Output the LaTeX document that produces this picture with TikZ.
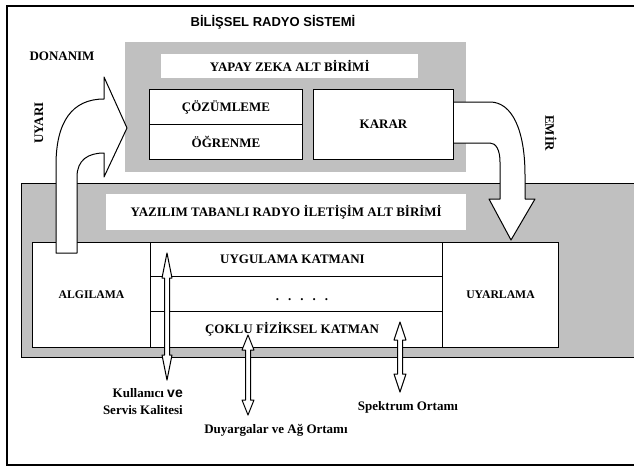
\documentclass[tikz,border=0pt]{standalone}
\usepackage{fontspec}
\setmainfont{Liberation Serif}
\newfontfamily\arial{Liberation Sans}
\usetikzlibrary{calc}
\definecolor{gri}{RGB}{192,192,192}

\begin{document}
\begin{tikzpicture}[x=1pt,y=-1pt]
	\tikzstyle{every node}=[inner sep=0pt,font=\fontsize{13}{15}\selectfont\bfseries]
	\tikzstyle{kutu}=[draw,fill=white,line width=1pt,anchor=north west]
	\tikzstyle{alan}=[fill=gri,anchor=north west]
	\tikzstyle{blok}=[draw,fill=white,line width=1pt,line join=round]
	\clip (0,0) rectangle (634,466);
	\draw[line width=1.2pt] (7,6) rectangle (660,465);

	\node (sistem) at (273,22) {\arial BİLİŞSEL RADYO SİSTEMİ};
	\node (donanim) at (62,56) {DONANIM};
	\node[rotate=90] (uyari) at (39,123) {UYARI};
	\node[rotate=-90] (emir) at (551,133) {EMİR};

	\node[alan,minimum width=341,minimum height=130] (yzalan) at (125,42) {};
	\node[anchor=north west,fill=white,minimum width=257,minimum height=24] (yz) at (161,54) {YAPAY ZEKA ALT BİRİMİ};
	\node[kutu,minimum width=153,minimum height=35] (cozumleme) at (149,89) {ÇÖZÜMLEME};
	\node[kutu,minimum width=153,minimum height=35] (ogrenme) at (149,124) {ÖĞRENME};
	\node[kutu,minimum width=140,minimum height=70] (karar) at (313,89) {KARAR};

	\node[alan,draw,line width=1pt,minimum width=660,minimum height=174] (ytralan) at (21,183) {};
	\node[anchor=north west,fill=white,minimum width=360,minimum height=36] (ytr) at (106,194) {YAZILIM TABANLI RADYO İLETİŞİM ALT BİRİMİ};
	\node[kutu,minimum width=118,minimum height=105,font=\fontsize{11.7}{14}\selectfont\bfseries] (algilama) at (32,242) {ALGILAMA};
	\node[kutu,minimum width=292,minimum height=34] (uygulama) at (150,242) {UYGULAMA KATMANI\hspace*{8pt}};
	\node[kutu,minimum width=292,minimum height=35] (ara) at (150,276) {};
	\node[kutu,minimum width=292,minimum height=36] (coklu) at (150,311) {ÇOKLU FİZİKSEL KATMAN\hspace*{9pt}};
	\node[kutu,minimum width=116,minimum height=105,font=\fontsize{11.7}{14}\selectfont\bfseries] (uyarlama) at (442,242) {UYARLAMA};
	\node (noktalar) at (302,300) {.\hspace{9pt}.\hspace{9pt}.\hspace{9pt}.\hspace{9pt}.};

	\draw[blok] (56,253) -- (56,165) .. controls (56,122) and (72,99) .. (104,99)
		-- (104,77) -- (127,128) -- (104,177) -- (104,153)
		.. controls (88,153) and (77,160) .. (77,177) -- (77,253) -- cycle;

	\draw[blok] (karar.east |- 0,102) -- (490,102) .. controls (512,102) and (525,130) .. (525,175)
		-- (525,199) -- (535,199) -- (511,240) -- (489,199) -- (500,199) -- (500,162)
		.. controls (500,150) and (496,143) .. (490,143) -- (karar.east |- 0,143);

	\draw[blok] (167,253) -- ++(5,25) -- ++(-2.5,0) -- ++(0,77) -- ++(2.5,0) -- ++(-5,25)
		-- ++(-5,-25) -- ++(2.5,0) -- ++(0,-77) -- ++(-2.5,0) -- cycle;
	\draw[blok] (248,335) -- ++(6,15) -- ++(-3.5,0) -- ++(0,50) -- ++(3.5,0) -- ++(-6,15)
		-- ++(-6,-15) -- ++(3.5,0) -- ++(0,-50) -- ++(-3.5,0) -- cycle;
	\draw[blok] (400,322) -- ++(6,18) -- ++(-3.5,0) -- ++(0,34) -- ++(3.5,0) -- ++(-6,18)
		-- ++(-6,-18) -- ++(3.5,0) -- ++(0,-34) -- ++(-3.5,0) -- cycle;

	\node[align=right,anchor=east] (kalite) at (183,402) {Kullanıcı {\arial\fontsize{14}{15}\selectfont ve}\\[2pt]Servis Kalitesi};
	\node (duyarga) at (276,430) {Duyargalar ve Ağ Ortamı};
	\node (spektrum) at (408,407) {Spektrum Ortamı};
\end{tikzpicture}
\end{document}
